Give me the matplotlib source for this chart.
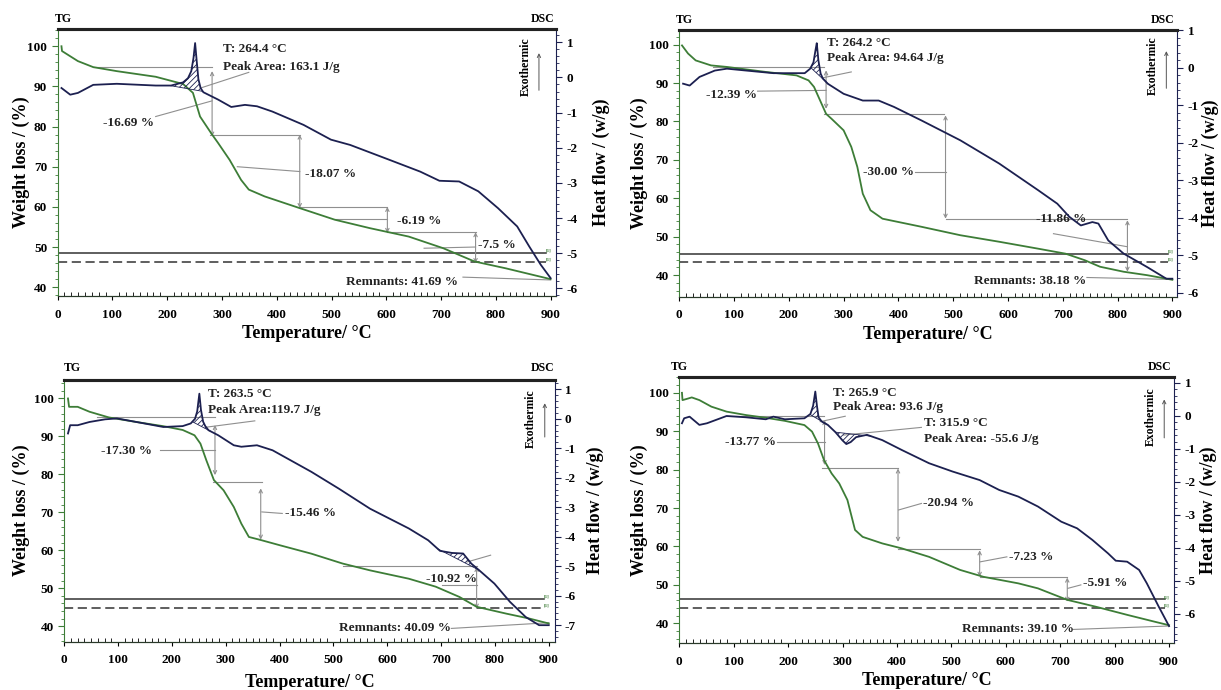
import numpy as np
import matplotlib.pyplot as plt
from matplotlib.ticker import MultipleLocator

plt.rcParams['font.family'] = 'Liberation Serif'
plt.rcParams['font.weight'] = 'bold'
plt.rcParams['hatch.linewidth'] = 0.6
plt.rcParams['axes.unicode_minus'] = False

green = '#3d7d37'
navy = '#1c2050'
grey = '#8f8f8f'

# ---- TG (weight %) and DSC (heat flow w/g) curves ----
tg_t1 = [7, 8, 37, 65, 108, 179, 229, 247, 260, 281, 293, 314, 335, 349, 378, 435, 506, 570, 641, 704, 761, 818, 900]
tg_w1 = [100, 98.8, 96.3, 94.8, 93.8, 92.4, 90.6, 88.4, 82.5, 78.2, 75.9, 71.7, 66.7, 64.3, 62.6, 60.0, 56.8, 54.7, 52.6, 49.7, 46.4, 44.7, 42.0]
dsc_t1 = [7, 23, 37, 65, 108, 179, 207, 229, 238, 244, 248, 251, 254, 257, 261, 266, 293, 317, 342, 364, 392, 449, 499, 534,
          605, 662, 697, 733, 768, 804, 839, 861, 882, 900]
dsc_v1 = [-0.30, -0.49, -0.44, -0.21, -0.18, -0.23, -0.23, -0.14, -0.02, 0.18, 0.55, 0.98, 0.45, -0.05, -0.30, -0.42, -0.63,
          -0.84, -0.78, -0.82, -0.97, -1.35, -1.77, -1.92, -2.34, -2.68, -2.94, -2.96, -3.24, -3.72, -4.24, -4.81, -5.33, -5.71]

tg_t2 = [5, 16, 30, 58, 87, 158, 214, 236, 246, 257, 268, 278, 300, 314, 325, 335, 349, 371, 442, 513, 584, 655, 705, 740,
         768, 811, 854, 900]
tg_w2 = [99.8, 97.7, 95.9, 94.6, 94.2, 92.9, 92.0, 90.7, 89.0, 85.5, 82.0, 80.7, 77.7, 73.4, 68.2, 61.2, 56.9, 54.7, 52.6,
         50.4, 48.7, 46.9, 45.6, 43.9, 42.2, 40.9, 40.0, 38.8]
dsc_t2 = [7, 19, 37, 65, 87, 122, 172, 229, 239, 245, 249, 251, 254, 258, 262, 271, 300, 335, 364, 392, 442, 513, 584, 655,
          690, 712, 733, 754, 765, 783, 811, 854, 889, 900]
dsc_v2 = [-0.42, -0.47, -0.24, -0.07, -0.02, -0.07, -0.14, -0.14, -0.02, 0.15, 0.50, 0.66, 0.20, -0.15, -0.28, -0.42, -0.69,
          -0.87, -0.87, -1.04, -1.40, -1.93, -2.55, -3.26, -3.62, -3.97, -4.20, -4.11, -4.15, -4.60, -4.95, -5.31, -5.62, -5.62]

tg_t3 = [7, 9, 25, 47, 83, 134, 184, 220, 242, 253, 264, 278, 296, 315, 329, 343, 365, 401, 459, 517, 568, 640, 690, 734,
         766, 821, 864, 900]
tg_w3 = [100, 97.8, 97.8, 96.5, 95.0, 93.8, 92.7, 91.7, 90.3, 88.1, 83.7, 78.5, 75.8, 71.4, 67.0, 63.5, 62.7, 61.3, 59.1,
         56.5, 54.7, 52.5, 50.4, 47.7, 45.1, 43.3, 42.0, 40.7]
dsc_t3 = [7, 11, 25, 47, 76, 98, 134, 184, 220, 235, 243, 247, 251, 254, 258, 262, 268, 286, 315, 329, 358, 387, 459, 510,
          568, 640, 676, 698, 720, 741, 756, 774, 799, 828, 857, 882, 900]
dsc_v3 = [-0.50, -0.22, -0.22, -0.11, -0.02, 0.01, -0.11, -0.28, -0.25, -0.16, 0.0, 0.25, 0.85, 0.30, -0.10, -0.25, -0.39,
          -0.56, -0.90, -0.95, -0.90, -1.07, -1.80, -2.37, -3.05, -3.72, -4.12, -4.48, -4.55, -4.57, -4.91, -5.19, -5.59,
          -6.21, -6.72, -7.0, -7.0]

tg_t4 = [5, 6, 16, 23, 37, 59, 87, 123, 159, 194, 230, 244, 255, 266, 280, 294, 309, 323, 337, 373, 409, 459, 516, 559,
         623, 659, 713, 766, 823, 874, 900]
tg_w4 = [100, 98.1, 98.5, 98.8, 98.1, 96.4, 95.1, 94.2, 93.5, 92.7, 91.6, 89.9, 86.8, 82.5, 79.0, 76.4, 72.1, 64.3, 62.5,
         60.8, 59.5, 57.3, 53.9, 52.1, 50.4, 49.1, 46.1, 44.3, 42.2, 40.4, 39.5]
dsc_t4 = [5, 9, 19, 37, 51, 87, 123, 159, 173, 194, 230, 241, 246, 250, 253, 256, 262, 273, 287, 300, 307, 315, 325, 345,
          373, 409, 459, 502, 552, 588, 623, 659, 702, 731, 759, 788, 802, 823, 845, 859, 881, 900]
dsc_v4 = [-0.23, -0.08, -0.03, -0.28, -0.23, -0.01, -0.05, -0.11, -0.03, -0.11, -0.08, 0.05, 0.30, 0.73, 0.30, -0.05,
          -0.18, -0.28, -0.50, -0.75, -0.86, -0.80, -0.65, -0.58, -0.74, -1.04, -1.44, -1.69, -1.95, -2.25, -2.45, -2.75,
          -3.21, -3.41, -3.76, -4.17, -4.39, -4.42, -4.67, -5.07, -5.78, -6.37]

x_ticks = [0, 100, 200, 300, 400, 500, 600, 700, 800, 900]
w_ticks = [40, 50, 60, 70, 80, 90, 100]

# ---- annotations of each panel ----
panels = [
    dict(tg=(tg_t1, tg_w1), dsc=(dsc_t1, dsc_v1), rect=[0.0472, 0.571, 0.4085, 0.387],
         xlim=(0, 910.6), ylim=(37.8, 104.3), y2lim=(-6.22, 1.38), y2ticks=range(-6, 2),
         hatch=[(205, 265)], ref=(48.5, 46.2),
         hl=[(65, 282, 94.8), (278, 442, 78.0), (442, 602, 60.0), (602, 763, 53.7)],
         ar=[(282, 93.8, 77.5), (442, 78.0, 59.7), (602, 60.0, 53.5), (763, 53.7, 46.0)],
         txt=[(301, 99.3, 'T: 264.4 °C'), (301, 94.8, 'Peak Area: 163.1 J/g'), (83, 81.0, '-16.69 %'),
              (452, 68.2, '-18.07 %'), (619, 56.6, '-6.19 %'), (767, 50.6, '-7.5 %'), (527, 41.4, 'Remnants: 41.69 %')],
         lead=[((179, 82.5), (282, 86.4)), ((349, 93.5), (261, 89.6)), ((328, 70.0), (442, 68.8)),
               ((506, 57.0), (602, 57.0)), ((669, 49.7), (763, 50.0)), ((740, 42.5), (900, 41.8))],
         lab=(-0.072, 1.09, -0.14), tgpos=(0.011, 0.973, 1.038), exo=(0.939, 0.86, 0.965, 0.76, 0.92)),
    dict(tg=(tg_t2, tg_w2), dsc=(dsc_t2, dsc_v2), rect=[0.5563, 0.570, 0.4079, 0.387],
         xlim=(0, 909), ylim=(34.4, 103.9), y2lim=(-6.1, 1.02), y2ticks=range(-6, 2),
         hatch=[(240, 272)], ref=(45.6, 43.5),
         hl=[(62, 264, 94.2), (264, 484, 81.9), (486, 818, 54.5)],
         ar=[(268, 93.3, 83.3), (486, 81.6, 54.7), (818, 54.3, 40.9)],
         txt=[(269, 100.5, 'T: 264.2 °C'), (269, 96.6, 'Peak Area: 94.64 J/g'), (48, 86.8, '-12.39 %'),
              (335, 66.9, '-30.00 %'), (651, 54.6, '-11.86 %'), (538, 38.4, 'Remnants: 38.18 %')],
         lead=[((314, 92.9), (263, 91.4)), ((143, 87.9), (268, 88.1)), ((431, 66.9), (486, 66.9)),
               ((683, 50.8), (818, 47.4)), ((744, 39.4), (896, 38.9))],
         lab=(-0.081, 1.066, -0.14), tgpos=(0.01, 0.97, 1.038), exo=(0.951, 0.866, 0.978, 0.77, 0.93)),
    dict(tg=(tg_t3, tg_w3), dsc=(dsc_t3, dsc_v3), rect=[0.0526, 0.070, 0.4016, 0.380],
         xlim=(0, 910.8), ylim=(35.9, 105.0), y2lim=(-7.56, 1.33), y2ticks=range(-7, 2),
         hatch=[(238, 272), (694, 770)], ref=(47.1, 44.8),
         hl=[(61, 280, 95.0), (277, 367, 78.0), (517, 766, 55.9)],
         ar=[(280, 93.0, 79.8), (365, 76.3, 62.8), (766, 55.6, 44.6)],
         txt=[(267, 101.3, 'T: 263.5 °C'), (267, 96.9, 'Peak Area:119.7 J/g'), (69, 86.1, '-17.30 %'),
              (410, 69.9, '-15.46 %'), (672, 52.3, '-10.92 %'), (510, 39.6, 'Remnants: 40.09 %')],
         lead=[((354, 94.1), (262, 92.4)), ((177, 86.4), (280, 86.4)), ((367, 70.1), (405, 69.7)),
               ((701, 50.8), (766, 50.8)), ((719, 39.4), (900, 40.9)), ((792, 58.7), (748, 56.9))],
         lab=(-0.087, 1.083, -0.157), tgpos=(0.016, 0.976, 1.043), exo=(0.952, 0.851, 0.98, 0.77, 0.92)),
    dict(tg=(tg_t4, tg_w4), dsc=(dsc_t4, dsc_v4), rect=[0.5563, 0.0677, 0.4053, 0.3864],
         xlim=(0, 909.3), ylim=(34.8, 104.2), y2lim=(-6.89, 1.18), y2ticks=range(-6, 2),
         hatch=[(240, 272), (287, 352)], ref=(46.2, 44.1),
         hl=[(87, 266, 93.9), (262, 402, 80.5), (402, 552, 59.3), (552, 713, 52.1)],
         ar=[(267, 92.9, 81.2), (402, 80.3, 61.2), (552, 59.0, 52.1), (713, 51.9, 45.6)],
         txt=[(282, 100.0, 'T: 265.9 °C'), (282, 96.4, 'Peak Area: 93.6 J/g'), (450, 92.2, 'T: 315.9 °C'),
              (450, 88.1, 'Peak Area: -55.6 J/g'), (84, 87.3, '-13.77 %'), (448, 71.2, '-20.94 %'),
              (605, 57.3, '-7.23 %'), (741, 50.4, '-5.91 %'), (520, 38.4, 'Remnants: 39.10 %')],
         lead=[((305, 93.9), (259, 92.5)), ((445, 91.0), (302, 89.0)), ((180, 87.3), (267, 87.3)),
               ((403, 69.5), (445, 71.2)), ((553, 56.0), (602, 57.3)), ((714, 49.1), (738, 50.0)),
               ((723, 38.4), (900, 39.3))],
         lab=(-0.081, 1.07, -0.139), tgpos=(0.001, 0.97, 1.037), exo=(0.953, 0.85, 0.98, 0.76, 0.925)),
]

fig = plt.figure(figsize=(12.21, 6.90), dpi=100)

for p in panels:
    ax = fig.add_axes(p['rect'])
    ax2 = ax.twinx()

    # reference lines and step construction
    for w, ls in zip(p['ref'], ['-', (0, (6, 3))]):
        ax.plot([0, 892], [w, w], color='#333333', lw=1.1, ls=ls)
        ax.text(896, w + 0.6, '[1]', color=green, fontsize=3.5, ha='center', va='center')
    for t0, t1, w in p['hl']:
        ax.plot([t0, t1], [w, w], color=grey, lw=0.8)
    for t, w0, w1 in p['ar']:
        ax.annotate('', xy=(t, w1), xytext=(t, w0),
                    arrowprops=dict(arrowstyle='<->', color=grey, lw=0.8, shrinkA=0, shrinkB=0,
                                    mutation_scale=6))
    for (a, b) in p['lead']:
        ax.plot([a[0], b[0]], [a[1], b[1]], color=grey, lw=0.8)
    for t, w, s in p['txt']:
        ax.text(t, w, s, fontsize=9.5, ha='left', va='center', color='#222222')

    # TG curve
    ax.plot(p['tg'][0], p['tg'][1], color=green, lw=1.3, zorder=5)

    # DSC curve with hatched peaks
    dt, dv = p['dsc']
    ax2.plot(dt, dv, color=navy, lw=1.3, zorder=5)
    for a, b in p['hatch']:
        tt = np.linspace(a, b, 120)
        cv = np.interp(tt, dt, dv)
        base = np.interp(tt, [a, b], [cv[0], cv[-1]])
        ax2.fill_between(tt, cv, base, facecolor='none', edgecolor=navy, hatch='//////', lw=0)
        ax2.plot([a, b], [cv[0], cv[-1]], color=navy, lw=0.6)

    ax.set_xlim(p['xlim'])
    ax.set_ylim(p['ylim'])
    ax2.set_ylim(p['y2lim'])
    ax.set_xticks(x_ticks)
    ax.set_yticks(w_ticks)
    ax2.set_yticks(list(p['y2ticks']))
    ax.xaxis.set_minor_locator(MultipleLocator(12.5))
    ax.yaxis.set_minor_locator(MultipleLocator(2))
    ax2.yaxis.set_minor_locator(MultipleLocator(0.2))
    ax.tick_params(axis='x', which='major', direction='out', length=3, labelsize=9.5, pad=6)
    ax.tick_params(axis='x', which='minor', direction='in', length=3)
    ax.tick_params(axis='y', which='major', direction='out', length=4, color=green, labelsize=9.5)
    ax.tick_params(axis='y', which='minor', direction='out', length=2, color=green)
    ax2.tick_params(axis='y', which='major', direction='out', length=4, color=navy, labelsize=9.5)
    ax2.tick_params(axis='y', which='minor', direction='out', length=2, color=navy)

    for a in (ax, ax2):
        a.spines['top'].set_linewidth(2.2)
        a.spines['top'].set_color('#222222')
        a.spines['bottom'].set_color('#2a3a2a')
    ax.spines['left'].set_color(green)
    ax.spines['right'].set_visible(False)
    ax2.spines['left'].set_visible(False)
    ax2.spines['right'].set_color(navy)

    lx, rx, by = p['lab']
    ax.text(lx, 0.5, 'Weight loss / (%)', transform=ax.transAxes, rotation=90,
            ha='center', va='center', fontsize=13)
    ax.text(rx, 0.5, 'Heat flow / (w/g)', transform=ax.transAxes, rotation=90,
            ha='center', va='center', fontsize=13)
    ax.text(0.5, by, 'Temperature/ °C', transform=ax.transAxes, ha='center', va='center', fontsize=13)

    tx, dx, ty = p['tgpos']
    ax.text(tx, ty, 'TG', transform=ax.transAxes, ha='center', va='center', fontsize=8.5)
    ax.text(dx, ty, 'DSC', transform=ax.transAxes, ha='center', va='center', fontsize=8.5)

    ex, ey, axx, ay0, ay1 = p['exo']
    ax.text(ex, ey, 'Exothermic', transform=ax.transAxes, rotation=90, ha='center', va='center', fontsize=8.5)
    ax.annotate('', xy=(axx, ay1), xytext=(axx, ay0), xycoords='axes fraction',
                arrowprops=dict(arrowstyle='->', color='#555555', lw=0.7, mutation_scale=6))

fig.savefig('out.png', dpi=100)
